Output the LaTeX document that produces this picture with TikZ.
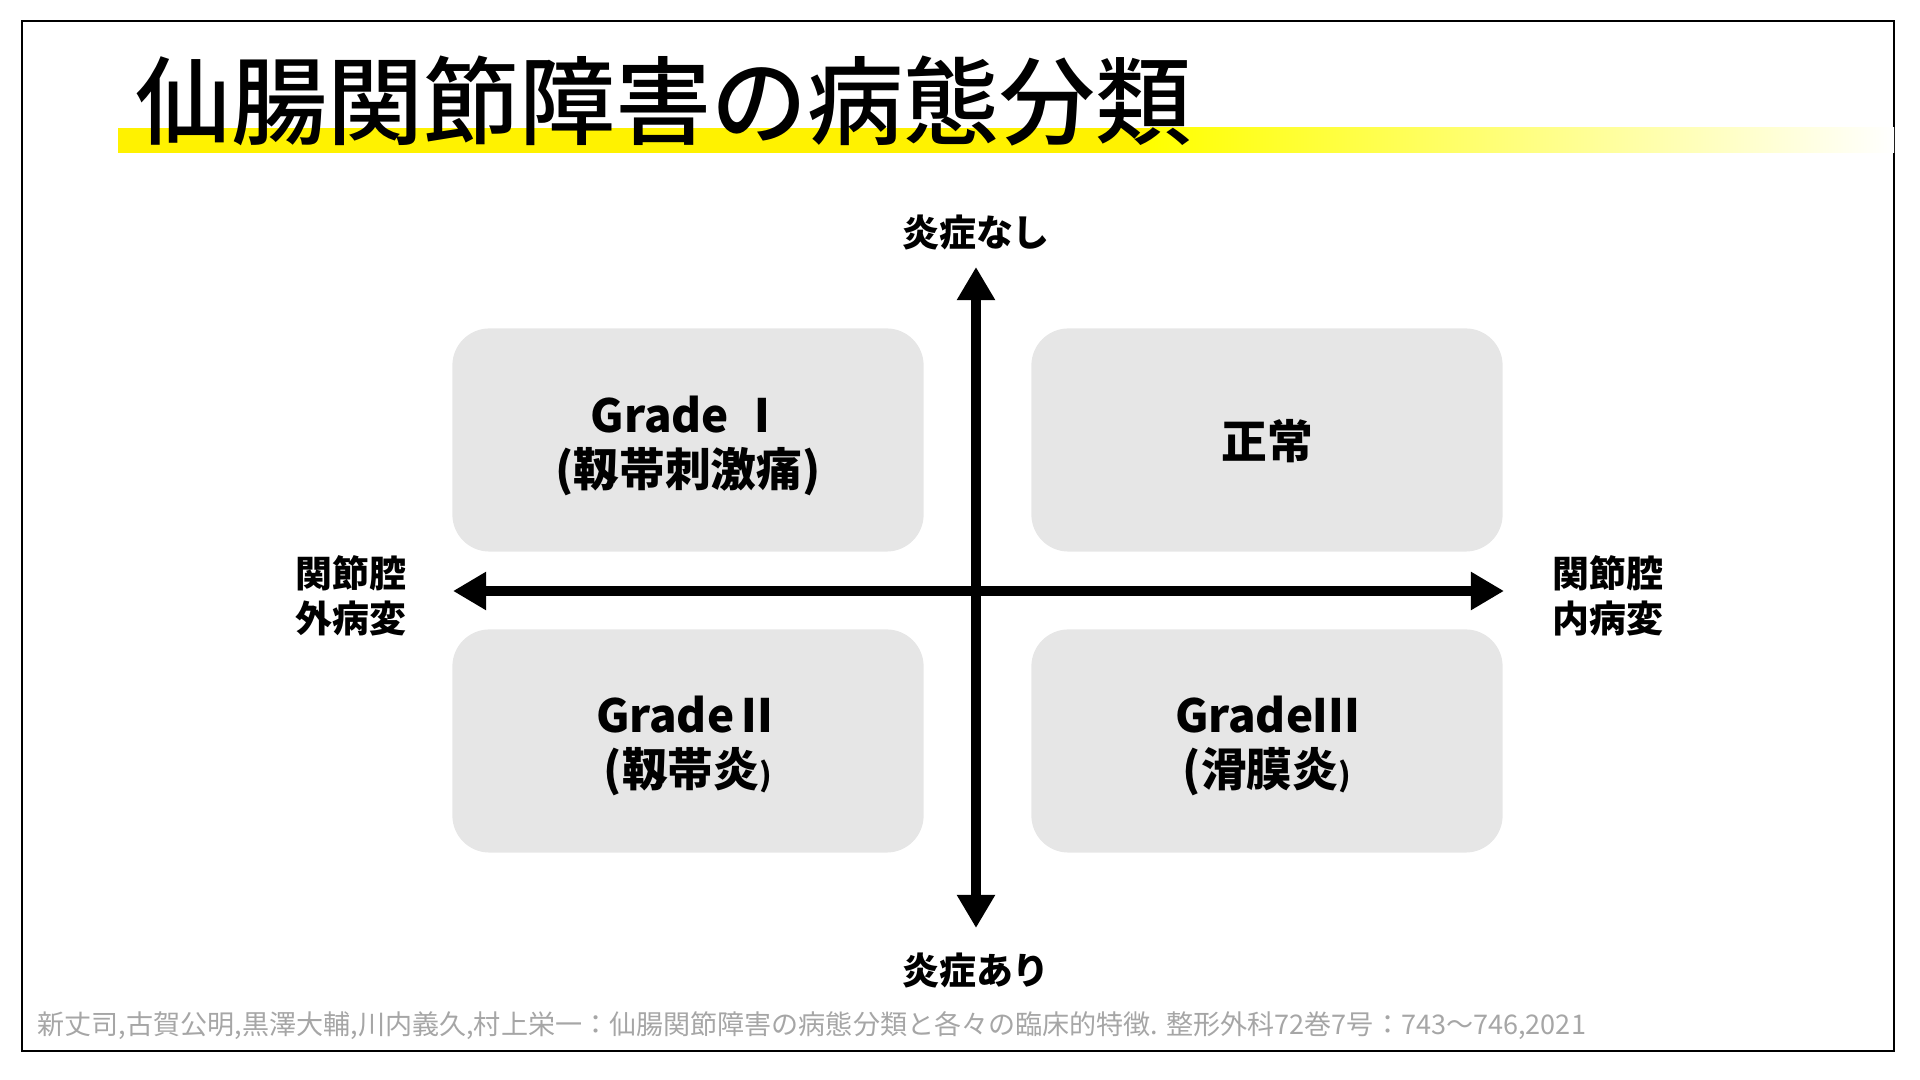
\documentclass[tikz,border=0pt]{standalone}
\usepackage{fontspec}
\setmainfont{Noto Sans CJK JP}
\newfontfamily\titlefont[UprightFont=* Medium]{Noto Sans CJK JP}
\usetikzlibrary{arrows.meta}
\definecolor{boxgray}{HTML}{E6E6E6}
\definecolor{refgray}{HTML}{A6A6A6}
\tikzstyle{grade}=[fill=boxgray, rounded corners=0.37cm, minimum width=4.71cm, minimum height=2.23cm]
\tikzstyle{gradetext}=[align=center, inner sep=0, font=\bfseries\fontsize{13}{15.2}\selectfont]
\tikzstyle{axislabel}=[align=center, inner sep=0, font=\bfseries\fontsize{10.5}{12.8}\selectfont]
\tikzstyle{axis}=[line width=0.1cm, arrows={Triangle[length=0.33cm,width=0.36cm]-Triangle[length=0.33cm,width=0.36cm]}]

\begin{document}
\begin{tikzpicture}[x=0.01cm, y=-0.01cm]
	\useasboundingbox (0,0) rectangle (1920,1080);
	\draw[line width=0.025cm] (22,21) rectangle (1894,1051);
	% title with yellow underline
	\fill[yellow] (118,128) rectangle (1151,153);
	\shade[left color=yellow, right color=white] (1150,128) rectangle (1894,153);
	\node[anchor=west, inner sep=0, font=\titlefont\fontsize{27.3}{30}\selectfont] (title) at (135,101) {仙腸関節障害の病態分類};
	% quadrants
	\node[grade] (g1) at (688,440) {};
	\node[grade] (normal) at (1267,440) {};
	\node[grade] (g2) at (688,741) {};
	\node[grade] (g3) at (1267,741) {};
	\node[gradetext] (g1text) at (688,446) {Grade Ⅰ\\(靱帯刺激痛)};
	\node[gradetext] (normaltext) at (1267,441) {正常};
	\node[gradetext] (g2text) at (688,746) {GradeⅡ\\(靱帯炎{\fontsize{9}{10}\selectfont)}};
	\node[gradetext] (g3text) at (1267,746) {GradeⅢ\\(滑膜炎{\fontsize{9}{10}\selectfont)}};
	% axes
	\coordinate (top) at (976,267);
	\coordinate (bottom) at (976,928);
	\coordinate (left) at (453,591);
	\coordinate (right) at (1504,591);
	\draw[axis] (bottom) -- (top);
	\draw[axis] (left) -- (right);
	\node[axislabel] (nonfl) at (976,233) {炎症なし};
	\node[axislabel] (infl) at (976,971) {炎症あり};
	\node[axislabel] (extra) at (351,596) {関節腔\\外病変};
	\node[axislabel] (intra) at (1608,596) {関節腔\\内病変};
	% reference
	\node[anchor=west, inner sep=0, text=refgray, font=\fontsize{7.7}{9}\selectfont] (ref) at (37,1026) {新丈司,古賀公明,黒澤大輔,川内義久,村上栄一：仙腸関節障害の病態分類と各々の臨床的特徴. 整形外科72巻7号：743〜746,2021};
\end{tikzpicture}
\end{document}
